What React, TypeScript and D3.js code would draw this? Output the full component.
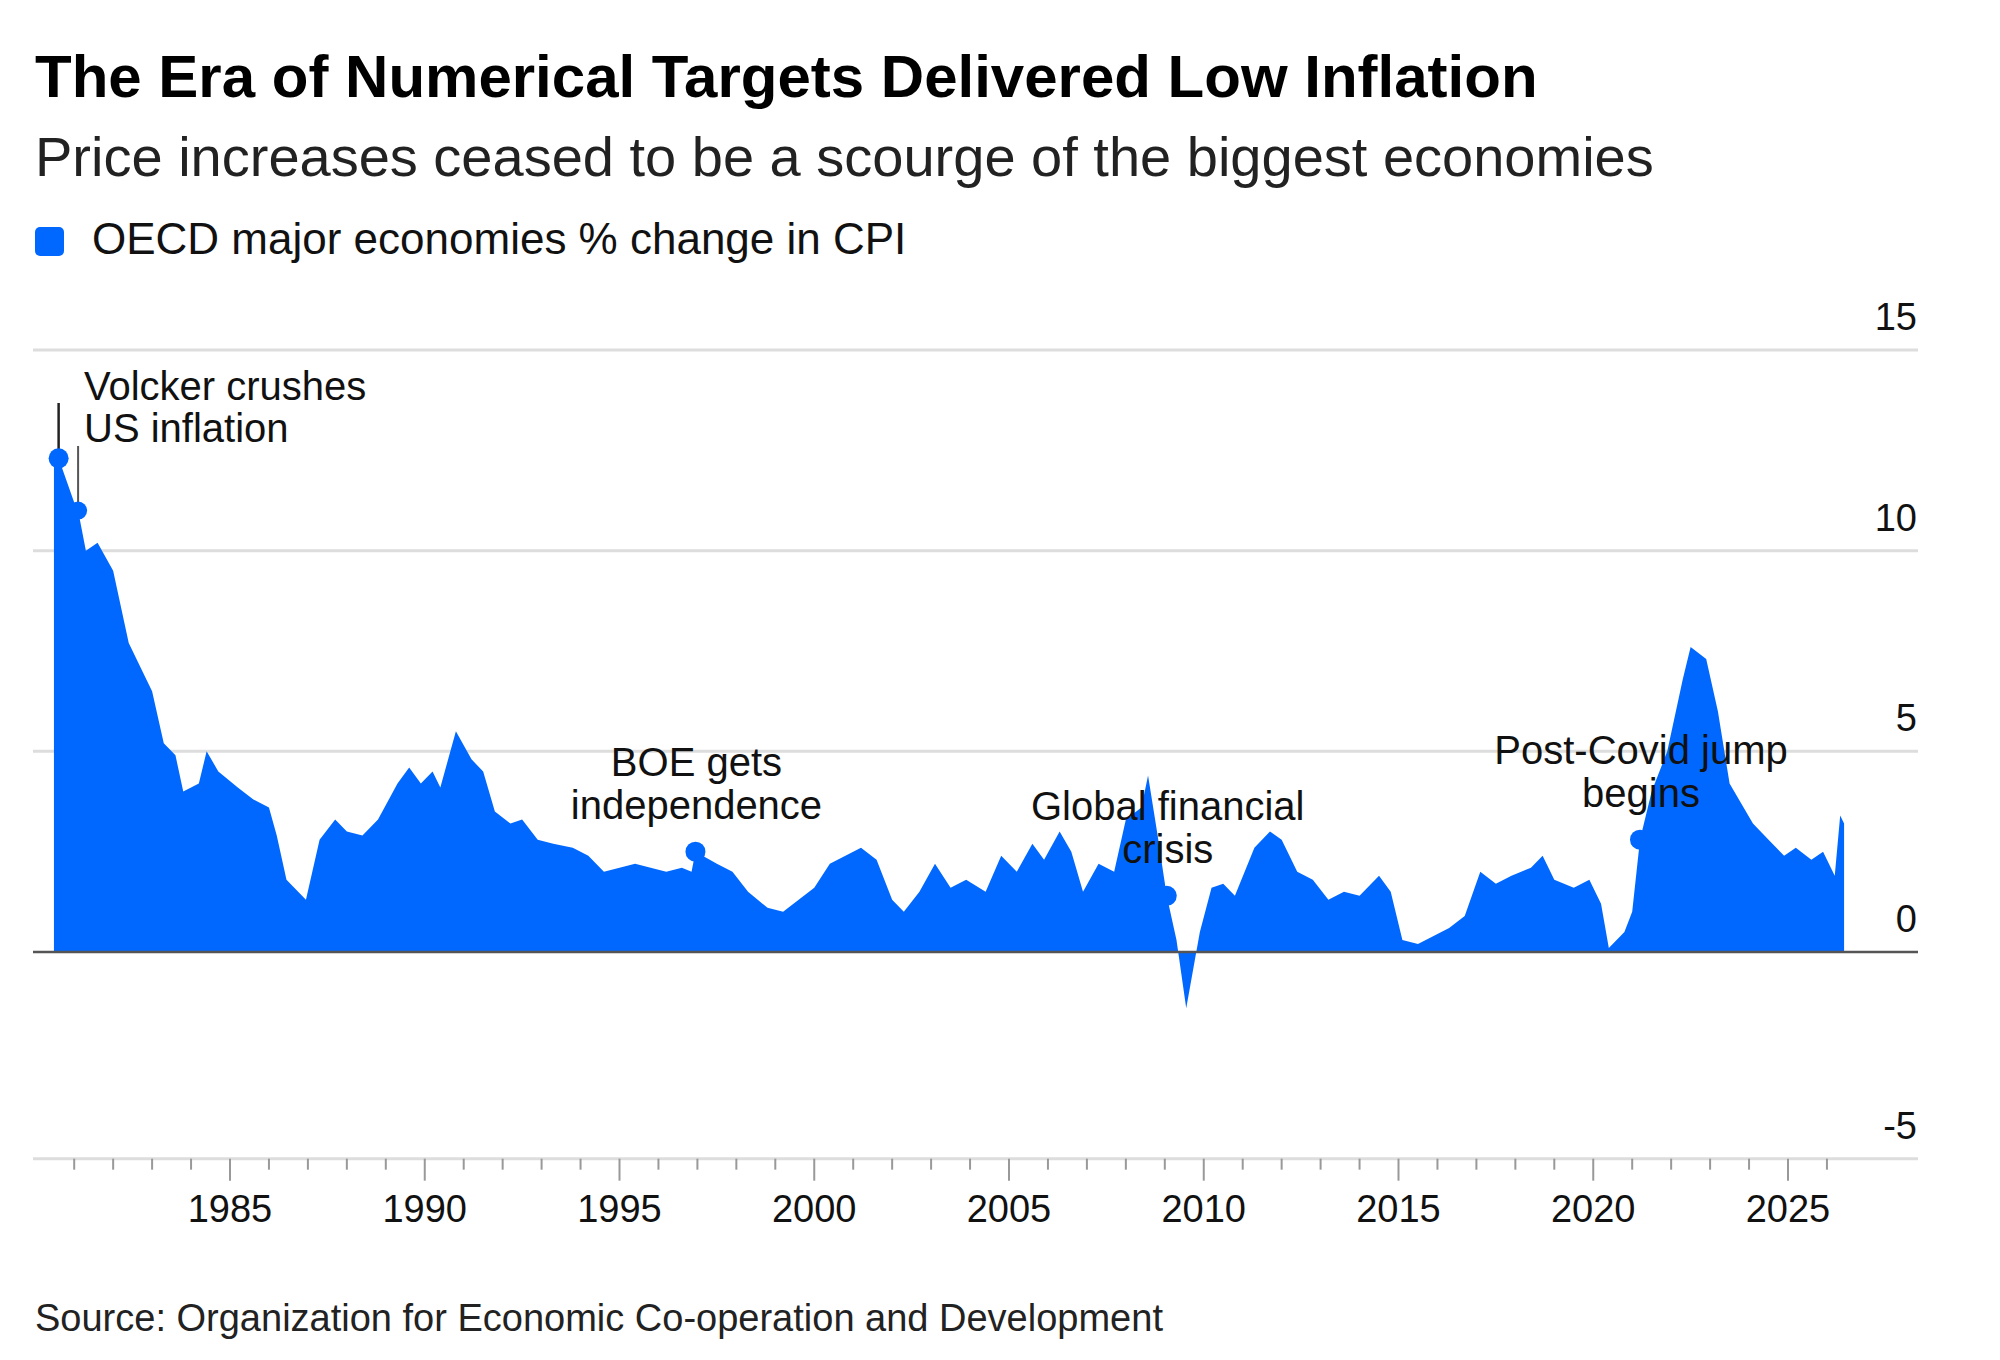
import React from "react";
import * as d3 from "d3";

// OECD major economies, % change in CPI
const dates: number[] = [
  1980.48, 1980.6, 1981.0, 1981.1, 1981.3, 1981.6, 1982.0, 1982.4, 1983.0, 1983.3, 1983.6, 1983.8,
  1984.2, 1984.4, 1984.7, 1985.2, 1985.6, 1986.0, 1986.2, 1986.45, 1986.95, 1987.3, 1987.7, 1988.0,
  1988.4, 1988.8, 1989.3, 1989.6, 1989.9, 1990.2, 1990.4, 1990.8, 1991.2, 1991.5, 1991.8, 1992.2,
  1992.5, 1992.9, 1993.3, 1993.8, 1994.2, 1994.6, 1995.0, 1995.4, 1995.8, 1996.2, 1996.6, 1996.85,
  1996.95, 1997.5, 1997.9, 1998.3, 1998.8, 1999.2, 1999.6, 2000.0, 2000.4, 2000.8, 2001.2, 2001.6,
  2002.0, 2002.3, 2002.7, 2003.1, 2003.5, 2003.9, 2004.4, 2004.8, 2005.2, 2005.6, 2005.9, 2006.3,
  2006.6, 2006.9, 2007.3, 2007.7, 2008.0, 2008.4, 2008.57, 2008.8, 2009.05, 2009.3, 2009.55, 2009.9,
  2010.2, 2010.5, 2010.8, 2011.3, 2011.7, 2012.0, 2012.4, 2012.8, 2013.2, 2013.6, 2014.0, 2014.5,
  2014.8, 2015.1, 2015.5, 2015.9, 2016.3, 2016.7, 2017.1, 2017.5, 2017.9, 2018.4, 2018.7, 2019.0,
  2019.5, 2019.9, 2020.2, 2020.4, 2020.8, 2021.0, 2021.2, 2021.5, 2021.9, 2022.3, 2022.5, 2022.9,
  2023.2, 2023.5, 2023.8, 2024.1, 2024.5, 2024.9, 2025.2, 2025.6, 2025.9, 2026.2, 2026.34, 2026.44,
];
const values: number[] = [
  12.5, 12.3, 11.2, 11.0, 10.0, 10.2, 9.5, 7.7, 6.5, 5.2, 4.9, 4.0,
  4.2, 5.0, 4.5, 4.1, 3.8, 3.6, 2.9, 1.8, 1.3, 2.8, 3.3, 3.0,
  2.9, 3.3, 4.2, 4.6, 4.2, 4.5, 4.1, 5.5, 4.8, 4.5, 3.5, 3.2,
  3.3, 2.8, 2.7, 2.6, 2.4, 2.0, 2.1, 2.2, 2.1, 2.0, 2.1, 2.0,
  2.5, 2.2, 2.0, 1.5, 1.1, 1.0, 1.3, 1.6, 2.2, 2.4, 2.6, 2.3,
  1.3, 1.0, 1.5, 2.2, 1.6, 1.8, 1.5, 2.4, 2.0, 2.7, 2.3, 3.0,
  2.5, 1.5, 2.2, 2.0, 3.3, 3.6, 4.4, 3.0, 1.4, 0.3, -1.4, 0.5,
  1.6, 1.7, 1.4, 2.6, 3.0, 2.8, 2.0, 1.8, 1.3, 1.5, 1.4, 1.9,
  1.5, 0.3, 0.2, 0.4, 0.6, 0.9, 2.0, 1.7, 1.9, 2.1, 2.4, 1.8,
  1.6, 1.8, 1.2, 0.1, 0.5, 1.0, 2.8, 4.0, 5.0, 6.8, 7.6, 7.3,
  6.0, 4.2, 3.7, 3.2, 2.8, 2.4, 2.6, 2.3, 2.5, 1.9, 3.4, 3.2,
];

const yTicks = [-5, 0, 5, 10, 15];
const xMajor = [1985, 1990, 1995, 2000, 2005, 2010, 2015, 2020, 2025];
const xMinor = d3.range(1981, 2027);

const annotations = [
  { date: 1996.95, value: 2.5, lines: ["BOE gets", "independence"] },
  { date: 2009.05, value: 1.4, lines: ["Global financial", "crisis"] },
  { date: 2021.2, value: 2.8, lines: ["Post-Covid jump", "begins"] },
];

const BLUE = "#0068ff";
const FONT = "'Liberation Sans', Arial, sans-serif";

export default function App() {
  const width = 2000;
  const height = 1360;
  const left = 33;
  const right = 1918;

  const x = d3.scaleLinear().domain([1985, 2025]).range([230, 1788]);
  const y = d3.scaleLinear().domain([0, 15]).range([952, 350]);

  const data = dates.map((d, i) => ({ date: d, value: values[i] }));
  const area = d3
    .area<{ date: number; value: number }>()
    .x((d) => x(d.date))
    .y0(y(0))
    .y1((d) => y(d.value));

  const axisY = y(-5) + 6;

  return (
    <svg width={width} height={height} style={{ display: "block", margin: -8 }} fontFamily={FONT}>
      <rect width={width} height={height} fill="#fff" />
      <text x={35} y={97} fontSize={60} fontWeight="bold" fill="#000">
        The Era of Numerical Targets Delivered Low Inflation
      </text>
      <text x={35} y={176} fontSize={56} fill="#222">
        Price increases ceased to be a scourge of the biggest economies
      </text>
      <rect x={35} y={227} width={29} height={29} rx={5} fill={BLUE} />
      <text x={92} y={254} fontSize={44} fill="#111">
        OECD major economies % change in CPI
      </text>

      {/* grid */}
      {yTicks.map((t) => (
        <g key={t}>
          {t !== 0 && (
            <line x1={left} x2={right} y1={t === -5 ? axisY : y(t)} y2={t === -5 ? axisY : y(t)} stroke="#ddd" strokeWidth={3} />
          )}
          <text x={right - 1} y={(t === -5 ? axisY : y(t)) - 20} fontSize={38} textAnchor="end" fill="#111">
            {t}
          </text>
        </g>
      ))}

      <path d={area(data) ?? ""} fill={BLUE} />
      <line x1={left} x2={right} y1={y(0)} y2={y(0)} stroke="#555" strokeWidth={2.5} />

      {/* x ticks */}
      {xMinor.map((yr) => {
        const major = yr % 5 === 0;
        return (
          <line key={yr} x1={x(yr)} x2={x(yr)} y1={axisY} y2={axisY + (major ? 22 : 11)} stroke="#999" strokeWidth={2} />
        );
      })}
      {xMajor.map((yr) => (
        <text key={yr} x={x(yr)} y={1222} fontSize={38} textAnchor="middle" fill="#111">
          {yr}
        </text>
      ))}

      {/* Volcker annotation */}
      <line x1={x(1980.6)} x2={x(1980.6)} y1={403} y2={y(12.3)} stroke="#222" strokeWidth={2.5} />
      <line x1={x(1981.1)} x2={x(1981.1)} y1={446} y2={y(11.0)} stroke="#555" strokeWidth={2} />
      <circle cx={x(1980.6)} cy={y(12.3)} r={10} fill={BLUE} />
      <circle cx={x(1981.1)} cy={y(11.0)} r={9} fill={BLUE} />
      <text x={84} y={400} fontSize={40} fill="#111">
        <tspan x={84}>Volcker crushes</tspan>
        <tspan x={84} dy={42}>US inflation</tspan>
      </text>

      {annotations.map((a) => {
        const cx = x(a.date);
        const cy = y(a.value);
        return (
          <g key={a.lines[0]}>
            <circle cx={cx} cy={cy} r={10} fill={BLUE} />
            <text x={cx + 1} y={cy - 76} fontSize={40} textAnchor="middle" fill="#111">
              <tspan x={cx + 1}>{a.lines[0]}</tspan>
              <tspan x={cx + 1} dy={43}>{a.lines[1]}</tspan>
            </text>
          </g>
        );
      })}

      <text x={35} y={1331} fontSize={38} fill="#222">
        Source: Organization for Economic Co-operation and Development
      </text>
    </svg>
  );
}
